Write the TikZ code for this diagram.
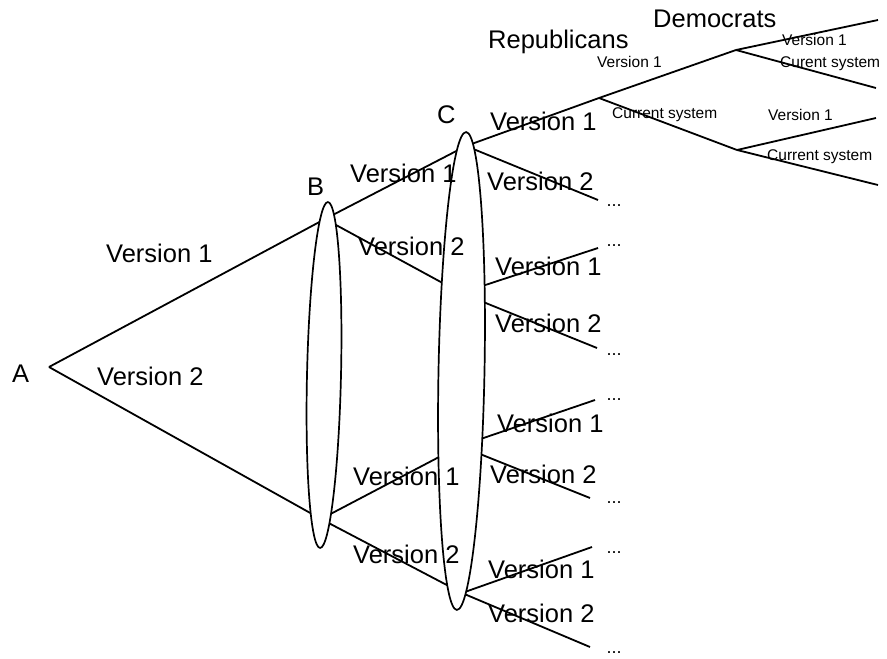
\documentclass[tikz,border=0pt]{standalone}
\usepackage{fontspec}
\setmainfont{Liberation Sans}
\begin{document}
\begin{tikzpicture}[x=1pt,y=-1pt,
  edge/.style={line width=1.8pt},
  grp/.style={line width=1.7pt, fill=white},
  big/.style={anchor=base west, inner sep=0pt, font=\fontsize{25.5}{30}\selectfont},
  small/.style={anchor=base west, inner sep=0pt, font=\fontsize{15.5}{18}\selectfont},
  dotsn/.style={inner sep=0pt, font=\fontsize{18}{20}\selectfont}]
\useasboundingbox (0,0) rectangle (887,659);
% branching points
\coordinate (a) at (49,367);
\coordinate (bu) at (325,219);
\coordinate (bl) at (321,519);
\coordinate (c1) at (466,146);
\coordinate (c2) at (461,293);
\coordinate (c3) at (460,446);
\coordinate (c4) at (462,593);
\coordinate (r) at (599,98);
\coordinate (d1) at (736,50);
\coordinate (d2) at (737,150);
% free ends
\coordinate (e1) at (598,200);
\coordinate (e2) at (598,248);
\coordinate (e3) at (597,348);
\coordinate (e4) at (595,400);
\coordinate (e5) at (590,498);
\coordinate (e6) at (592,547);
\coordinate (e7) at (590,647);
\coordinate (f1) at (878,20);
\coordinate (f2) at (876,88);
\coordinate (f3) at (876,118);
\coordinate (f4) at (878,185);
% connectors
\draw[edge] (a) -- (bu);
\draw[edge] (a) -- (bl);
\draw[edge] (bu) -- (c1);
\draw[edge] (bu) -- (c2);
\draw[edge] (bl) -- (c3);
\draw[edge] (bl) -- (c4);
\draw[edge] (c1) -- (r);
\draw[edge] (c1) -- (e1);
\draw[edge] (c2) -- (e2);
\draw[edge] (c2) -- (e3);
\draw[edge] (c3) -- (e4);
\draw[edge] (c3) -- (e5);
\draw[edge] (c4) -- (e6);
\draw[edge] (c4) -- (e7);
\draw[edge] (r) -- (d1);
\draw[edge] (r) -- (d2);
\draw[edge] (d1) -- (f1);
\draw[edge] (d1) -- (f2);
\draw[edge] (d2) -- (f3);
\draw[edge] (d2) -- (f4);
% information sets
\draw[grp, rotate around={-1.3:(324,375)}] (324,375) ellipse [x radius=17pt, y radius=173pt];
\draw[grp, rotate around={-1.1:(461.5,371)}] (461.5,371) ellipse [x radius=23pt, y radius=239pt];
% labels
\node[big] (la) at (12,382) {A};
\node[big] (lb) at (307,195) {B};
\node[big] (lc) at (437,123) {C};
\node[big] (lrep) at (488,48) {Republicans};
\node[big] (ldem) at (653,27) {Democrats};
\node[big] (v1a) at (106,262) {Version 1};
\node[big] (v2a) at (97,385) {Version 2};
\node[big] (v1b) at (350,182) {Version 1};
\node[big] (v2b) at (358,255) {Version 2};
\node[big] (v1bl) at (353,485) {Version 1};
\node[big] (v2bl) at (353,563) {Version 2};
\node[big] (v1c1) at (490,130) {Version 1};
\node[big] (v2c1) at (487,190) {Version 2};
\node[big] (v1c2) at (495,275) {Version 1};
\node[big] (v2c2) at (495,332) {Version 2};
\node[big] (v1c3) at (497,432) {Version 1};
\node[big] (v2c3) at (490,483) {Version 2};
\node[big] (v1c4) at (488,578) {Version 1};
\node[big] (v2c4) at (488,622) {Version 2};
\node[small] (s1) at (597,67) {Version 1};
\node[small] (s2) at (612,118) {Current system};
\node[small] (s3) at (782,45) {Version 1};
\node[small] (s4) at (780,67) {Curent system};
\node[small] (s5) at (768,120) {Version 1};
\node[small] (s6) at (767,160) {Current system};
% continuation dots
\node[dotsn] (o1) at (614,206) {...};
\node[dotsn] (o2) at (614,246) {...};
\node[dotsn] (o3) at (614,355) {...};
\node[dotsn] (o4) at (614,400) {...};
\node[dotsn] (o5) at (614,503) {...};
\node[dotsn] (o6) at (614,553) {...};
\node[dotsn] (o7) at (614,653) {...};
\end{tikzpicture}
\end{document}
